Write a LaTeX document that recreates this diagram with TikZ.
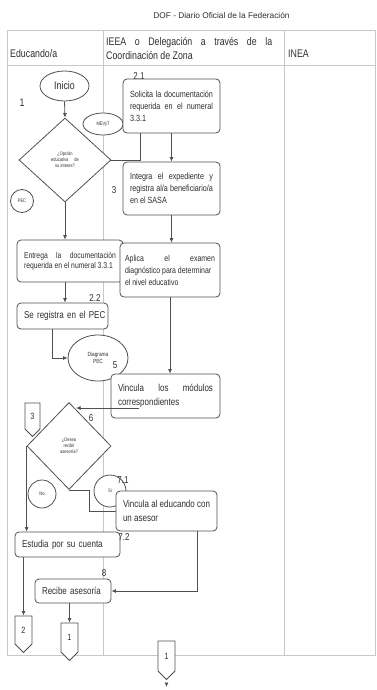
\documentclass[tikz,border=0pt]{standalone}
\usepackage{fontspec}
\setmainfont{Liberation Sans}
\newfontfamily\narrowfont[FakeStretch=0.8]{Liberation Sans}
\usetikzlibrary{shapes.geometric,shapes.symbols,arrows.meta}

\definecolor{linegray}{HTML}{C8C8C8}
\definecolor{boxgray}{HTML}{505050}
\definecolor{txtgray}{HTML}{2E2E2E}

\newcommand{\boxfont}{\narrowfont\fontsize{9}{12}\selectfont\hyphenpenalty=10000 }
\newcommand{\midboxfont}{\narrowfont\fontsize{8.7}{12}\selectfont\hyphenpenalty=10000 }
\newcommand{\bigboxfont}{\narrowfont\fontsize{10}{14}\selectfont\hyphenpenalty=10000 }
\newcommand{\smallboxfont}{\narrowfont\fontsize{8.5}{10}\selectfont\hyphenpenalty=10000 }
\newcommand{\tinyfont}{\narrowfont\fontsize{5}{6}\selectfont}
\newcommand{\headfont}{\narrowfont\fontsize{11}{14}\selectfont\hyphenpenalty=10000 }

\begin{document}
\begin{tikzpicture}[x=1pt, y=-1pt,
    every node/.style={text=txtgray},
    tabline/.style={draw=linegray, line width=1pt},
    proc/.style={draw=boxgray, fill=white, rounded corners=4pt, line width=0.8pt,
      inner xsep=7pt, inner ysep=0pt, align=justify, font=\boxfont},
    term/.style={ellipse, draw=boxgray, fill=white, line width=0.8pt, inner sep=0pt, align=center},
    decision/.style={diamond, draw=boxgray, fill=white, line width=0.8pt, inner sep=0pt,
      align=center, font=\tinyfont},
    offpage/.style={signal, signal to=south, draw=boxgray, fill=white, line width=0.8pt,
      inner sep=0pt, font=\narrowfont\fontsize{9}{9}\selectfont},
    num/.style={font=\narrowfont\fontsize{10}{10}\selectfont, inner sep=0pt},
    arr/.style={draw=boxgray, line width=0.8pt, -{Latex[length=4.5pt,width=4pt]}},
    link/.style={draw=boxgray, line width=0.8pt}
  ]
  \useasboundingbox (0,0) rectangle (376,690);

  % Page title
  \node[font=\fontsize{8.3}{10}\selectfont] (title) at (221.5,15.5) {DOF - Diario Oficial de la Federación};

  % Swimlane table
  \draw[tabline] (7,31) rectangle (375.5,655);
  \draw[tabline] (7,66) -- (375.5,66);
  \draw[tabline] (103,31) -- (103,655);
  \draw[tabline] (284,31) -- (284,655);
  \node[anchor=base west, font=\headfont, inner sep=0pt] (hedu) at (10,58) {Educando/a};
  \node[anchor=north west, text width=166pt, align=justify, font=\headfont, inner sep=0pt] (hieea) at (106,37)
    {IEEA o Delegación a través de la\linebreak Coordinación de Zona};
  \node[anchor=base west, font=\headfont, inner sep=0pt] (hinea) at (288,58) {INEA};

  % Educando/a: start and first decision
  \node[term, minimum width=49pt, minimum height=30pt, font=\narrowfont\fontsize{11}{11}\selectfont] (ini) at (64.5,86) {Inicio};
  \node[num, font=\narrowfont\fontsize{11}{11}\selectfont] (n1) at (22,103) {1};
  \node[decision, minimum width=92pt, minimum height=84pt] (d1) at (65,160)
    {¿Opción\\educativa\hspace{6pt}de\\su interes?};
  \node[term, minimum width=40pt, minimum height=22pt, font=\tinyfont] (mev) at (103,124) {MEVyT};
  \node[term, minimum width=23pt, minimum height=23pt, font=\tinyfont] (pec) at (22,201) {PEC};

  % IEEA: request and register
  \node[num] (n21) at (139,76) {2.1};
  \node[proc, text width=83pt, minimum height=54pt] (sol) at (171.5,106)
    {Solicita la documentación\linebreak requerida en el numeral\linebreak 3.3.1};
  \node[proc, text width=83pt, minimum height=53pt] (int) at (171.5,188.5)
    {Integra el expediente y\linebreak registra al/a beneficiario/a\linebreak en el SASA};
  \node[num] (n3) at (114,190) {3};

  % Educando/a: documents and PEC
  \node[proc, text width=92pt, minimum height=42pt, font=\smallboxfont] (ent) at (70,261)
    {Entrega la documentación\linebreak requerida en el numeral 3.3.1};
  \node[proc, text width=90pt, inner xsep=5pt, minimum height=54pt, font=\midboxfont] (apl) at (170,270)
    {Aplica el examen\linebreak \mbox{diagnóstico para determinar}\linebreak el nivel educativo};
  \node[num] (n22) at (95,298) {2.2};
  \node[proc, text width=77pt, minimum height=26pt, align=left, font=\bigboxfont] (reg) at (62.5,316)
    {\mbox{Se registra en el PEC}};
  \node[term, minimum width=60pt, minimum height=46pt, font=\narrowfont\fontsize{6}{7.5}\selectfont] (dpec) at (98,358) {Diagrama\\PEC};
  \node[num] (n5) at (115,365) {5};
  \node[proc, text width=95pt, minimum height=44pt, font=\bigboxfont] (vmod) at (165.5,396)
    {Vincula los módulos\linebreak correspondientes};

  % Second decision: tutoring
  \node[offpage, minimum width=15pt, minimum height=28pt] (c3) at (32.5,416) {3};
  \node[decision, minimum width=84pt, minimum height=87pt] (d2) at (69,446)
    {¿Desea\\recibir\\asesoría?};
  \coordinate (in6) at (76,408);
  \node[num] (n6) at (91,418) {6};
  \node[term, minimum width=28pt, minimum height=28pt, font=\tinyfont] (no) at (42,494) {No};
  \node[term, minimum width=32pt, minimum height=32pt, font=\tinyfont] (si) at (110,491) {Si};
  \node[num] (n71) at (123,480) {7.1};
  \node[proc, text width=87pt, minimum height=40pt, font=\bigboxfont] (vas) at (166.5,511)
    {Vincula al educando con\linebreak un asesor};
  \node[proc, text width=91pt, minimum height=25pt, align=left, font=\bigboxfont] (est) at (67.5,544.5)
    {\mbox{Estudia por su cuenta}};
  \node[num] (n72) at (124,537) {7.2};
  \node[num] (n8) at (104,573) {8};
  \node[proc, text width=62pt, minimum height=24pt, align=left, font=\bigboxfont] (rec) at (73,591)
    {\mbox{Recibe asesoría}};

  % Off-page connectors
  \node[offpage, minimum width=17pt, minimum height=30pt] (c2) at (23.5,630) {2};
  \node[offpage, minimum width=17pt, minimum height=31pt] (c1) at (69.5,637.5) {1};
  \node[offpage, minimum width=17pt, minimum height=32pt] (c1b) at (166.5,656) {1};
  \coordinate (fin) at (166.5,687);

  % Connectors
  \draw[arr] (ini.south) -- (d1.north);
  \draw[link] (d1.east) -| ([xshift=18pt]sol.south west);
  \draw[arr] (sol.south) -- (int.north);
  \draw[arr] (int.south) -- (int.south |- apl.north);
  \draw[arr] (d1.south) -- (d1.south |- ent.north);
  \draw[arr] (ent.south -| d1.south) -- (reg.north -| d1.south);
  \draw[arr] ([xshift=36pt]reg.south west) |- (dpec.west);
  \draw[arr] (apl.south) -- (apl.south |- vmod.north);
  \draw[arr] ([xshift=28pt]vmod.west |- in6) -- (in6);
  \draw[link] (d2.south) -- ++(20,0) |- (vas.west);
  \draw[arr] (d2.west) -- (d2.west |- est.north);
  \draw[arr] (est.south -| c2.north) -- (c2.north);
  \draw[arr] ([xshift=-20pt]vas.south east) |- (rec.east);
  \draw[arr] (rec.south -| c1.north) -- (c1.north);
  \draw[arr] ([yshift=-3pt]c1b.south) -- (fin);
\end{tikzpicture}
\end{document}
